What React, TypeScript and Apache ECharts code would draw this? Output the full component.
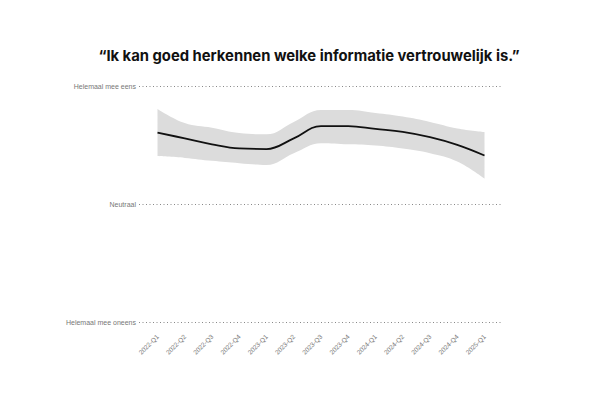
import React, { useEffect, useRef } from "react";
import * as echarts from "echarts";

const titleText = "“Ik kan goed herkennen welke informatie vertrouwelijk is.”";
const categories = [
  "2022-Q1", "2022-Q2", "2022-Q3", "2022-Q4", "2023-Q1", "2023-Q2", "2023-Q3",
  "2023-Q4", "2024-Q1", "2024-Q2", "2024-Q3", "2024-Q4", "2025-Q1",
];
const meanValues = [4.22, 4.12, 4.02, 3.95, 3.94, 4.12, 4.33, 4.33, 4.28, 4.23, 4.14, 4.01, 3.83];
const upperValues = [4.62, 4.38, 4.3, 4.21, 4.19, 4.4, 4.6, 4.6, 4.55, 4.49, 4.4, 4.29, 4.23];
const lowerValues = [3.82, 3.79, 3.74, 3.7, 3.67, 3.87, 4.04, 4.02, 4.0, 3.95, 3.87, 3.73, 3.44];
const yTickValues = [1, 3, 5];
const yTickLabels = ["Helemaal mee oneens", "Neutraal", "Helemaal mee eens"];

export default function App() {
  const ref = useRef<HTMLDivElement>(null);
  useEffect(() => {
    if (!ref.current) return;
    const chart = echarts.init(ref.current, null, { renderer: "svg" });
    const bandHeight = upperValues.map((u, i) => +(u - lowerValues[i]).toFixed(3));
    chart.setOption({
      animation: false,
      backgroundColor: "#ffffff",
      title: {
        text: titleText,
        left: 304,
        textAlign: "center",
        top: 43,
        textStyle: { fontFamily: "Inter", fontWeight: 700, fontSize: 14.8, color: "#111" },
      },
      grid: [
        { left: 157.5, right: 115.5, top: 86.5, bottom: 70.5 },
        { left: 139, right: 98, top: 86.5, bottom: 70.5 },
      ],
      xAxis: [
        {
          type: "category",
          gridIndex: 0,
          data: categories,
          boundaryGap: false,
          axisLine: { show: false },
          axisTick: { show: false },
          splitLine: { show: false },
          axisLabel: {
            rotate: 45,
            margin: 13,
            fontSize: 6.5,
            color: "#777",
            fontFamily: "Liberation Sans",
          },
        },
        { type: "value", gridIndex: 1, min: 0, max: 1, show: false },
      ],
      yAxis: [
        { type: "value", gridIndex: 0, min: 1, max: 5, show: false },
        {
          type: "value",
          gridIndex: 1,
          min: 1,
          max: 5,
          interval: 2,
          axisLine: { show: false },
          axisTick: { show: false },
          axisLabel: {
            margin: 3,
            fontSize: 7,
            color: "#777",
            fontFamily: "Liberation Sans",
            formatter: (v: number) => yTickLabels[yTickValues.indexOf(v)] ?? "",
          },
          splitLine: { lineStyle: { type: [1, 2.5], color: "#888", width: 1 } },
        },
      ],
      series: [
        {
          type: "line",
          xAxisIndex: 0,
          yAxisIndex: 0,
          stack: "band",
          data: lowerValues,
          smooth: 0.4,
          symbol: "none",
          lineStyle: { opacity: 0 },
          silent: true,
        },
        {
          type: "line",
          xAxisIndex: 0,
          yAxisIndex: 0,
          stack: "band",
          data: bandHeight,
          smooth: 0.4,
          symbol: "none",
          lineStyle: { opacity: 0 },
          areaStyle: { color: "#dcdcdc", opacity: 1 },
          silent: true,
        },
        {
          type: "line",
          xAxisIndex: 0,
          yAxisIndex: 0,
          data: meanValues,
          smooth: 0.4,
          symbol: "none",
          lineStyle: { color: "#111", width: 1.8 },
          z: 5,
        },
      ],
    });
    return () => chart.dispose();
  }, []);
  return (
    <div
      ref={ref}
      style={{ position: "fixed", left: 0, top: 0, width: 600, height: 393, background: "#fff" }}
    />
  );
}
